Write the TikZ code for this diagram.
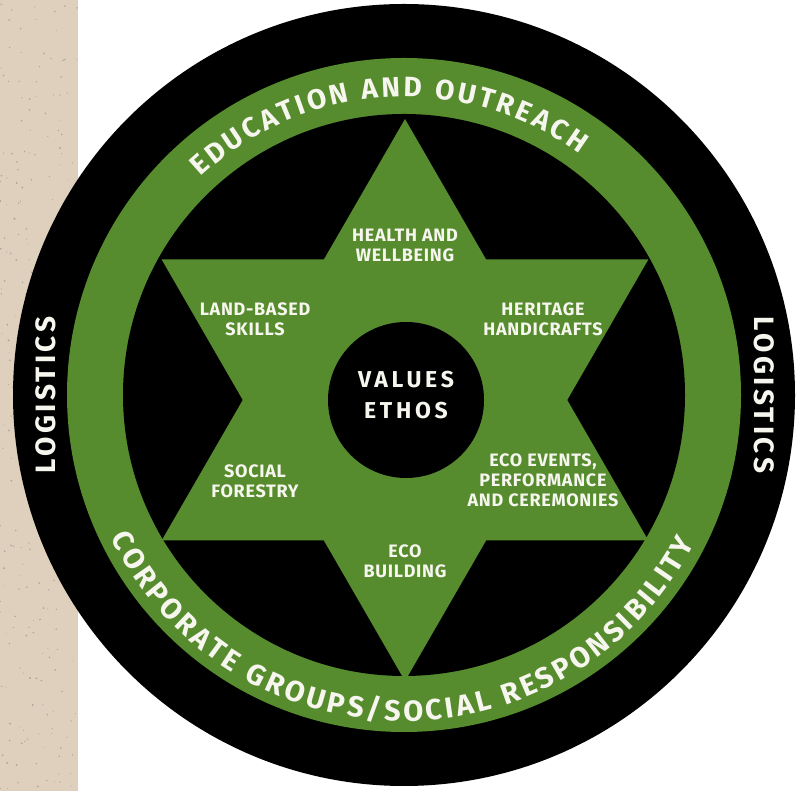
\documentclass[tikz,border=0pt]{standalone}
\usepackage{fontspec}
\setmainfont{Fira Sans}
\newfontfamily\starfont[LetterSpace=4.0]{Fira Sans}
\newfontfamily\corefont[LetterSpace=16.0]{Fira Sans}
\newfontfamily\sidefont[LetterSpace=12.0]{Fira Sans}
\usetikzlibrary{decorations.text}

\definecolor{leaf}{RGB}{86,140,46}
\definecolor{card}{RGB}{222,208,189}
\definecolor{chalk}{RGB}{246,246,238}

\begin{document}
\begin{tikzpicture}[x=1pt,y=1pt,
	skill/.style={text=chalk,align=center,inner sep=0pt,font=\starfont\bfseries\fontsize{18}{20}\selectfont},
	core/.style={text=chalk,align=center,inner sep=0pt,font=\corefont\bfseries\fontsize{23}{31}\selectfont},
	side/.style={text=chalk,inner sep=0pt,font=\sidefont\bfseries\fontsize{28}{28}\selectfont}]

	\useasboundingbox (0,0) rectangle (808,791);
	\fill[white] (0,0) rectangle (808,791);
	\fill[card] (0,0) rectangle (78,791);
	% grain of the card
	\pgfmathsetseed{11}
	\foreach \i in {1,...,260}
		\fill[black!55,opacity=0.45] ({rnd*78},{rnd*791}) circle[radius={0.4+rnd*0.7}];

	\coordinate (mid) at (404,396);
	\fill[black] (mid) circle[radius=391];
	\fill[leaf] (mid) circle[radius=337];
	\fill[black] (mid) circle[radius=281];

	\fill[leaf,shift={(405,391)}] (90:281) -- (210:281) -- (330:281) -- cycle;
	\fill[leaf,shift={(405,391)}] (270:281) -- (30:281) -- (150:281) -- cycle;
	\fill[black] (406,391) circle[radius=78];

	\node[core] (values) at (406,396) {VALUES\\ETHOS};

	\node[skill] (health) at (405,546) {HEALTH AND\\WELLBEING};
	\node[skill] (land) at (255,472) {LAND-BASED\\SKILLS};
	\node[skill] (heritage) at (543,472) {HERITAGE\\HANDICRAFTS};
	\node[skill] (forestry) at (255,310) {SOCIAL\\FORESTRY};
	\node[skill] (events) at (543,311) {ECO EVENTS,\\PERFORMANCE\\AND CEREMONIES};
	\node[skill] (building) at (405,230) {ECO\\BUILDING};

	\node[side,rotate=90] (logl) at (46,396) {LOGISTICS};
	\node[side,rotate=-90] (logr) at (764,396) {LOGISTICS};

	\path[decorate,decoration={text along path,text align=fit to path,text color=chalk,
		text={|\bfseries\fontsize{28}{28}\selectfont|EDUCATION AND OUTREACH}}]
		(mid) ++(133:298) arc[start angle=133,end angle=54,radius=298];
	\path[decorate,decoration={text along path,text align=fit to path,text color=chalk,
		text={|\bfseries\fontsize{29}{29}\selectfont|CORPORATE GROUPS/SOCIAL RESPONSIBILITY}}]
		(mid) ++(206:326) arc[start angle=206,end angle=333,radius=326];
\end{tikzpicture}
\end{document}
